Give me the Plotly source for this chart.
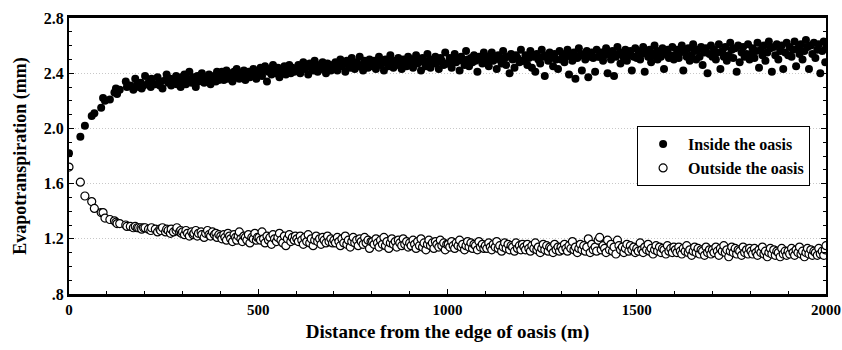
import plotly.graph_objects as go

# Distance from the edge of oasis (m), shared by both series
distance = [
    0, 30, 42, 60, 67, 85, 90, 95, 108, 120, 124, 127, 134, 150, 153, 162, 170, 175, 180, 184, 190, 192, 197,
    201, 210, 216, 218, 228, 234, 240, 242, 247, 255, 258, 262, 268, 270, 276, 283, 285, 292, 295, 297,
    300, 305, 309, 313, 318, 324, 328, 330, 335, 339, 342, 349, 351, 357, 361, 366, 370, 374, 379, 384, 388, 391, 396,
    401, 404, 409, 412, 416, 420, 424, 427, 432, 436, 440, 443, 447, 450, 454, 458, 462, 466, 470, 474, 478, 483, 487, 491, 495, 498,
    502, 506, 510, 514, 518, 523, 527, 531, 535, 539, 543, 548, 552, 556, 560, 565, 569, 573, 577, 582, 586, 590, 595, 598,
    602, 606, 611, 615, 619, 623, 628, 632, 636, 640, 645, 649, 653, 657, 662, 666, 670, 674, 679, 683, 687, 692, 696,
    700, 704, 709, 713, 717, 721, 726, 730, 734, 738, 743, 747, 751, 755, 760, 764, 768, 772, 777, 781, 785, 790, 794, 798,
    802, 806, 811, 815, 819, 823, 828, 832, 836, 840, 845, 849, 853, 857, 862, 866, 870, 874, 879, 883, 887, 892, 896,
    900, 904, 909, 913, 917, 921, 926, 930, 934, 938, 943, 947, 951, 955, 960, 964, 968, 972, 977, 981, 985, 990, 994, 998,
    1002, 1006, 1011, 1015, 1019, 1023, 1028, 1032, 1036, 1040, 1045, 1049, 1053, 1057, 1062, 1066, 1070, 1074, 1079, 1083, 1087, 1092, 1096,
    1100, 1104, 1109, 1113, 1117, 1121, 1126, 1130, 1134, 1138, 1143, 1147, 1151, 1155, 1160, 1164, 1168, 1172, 1177, 1181, 1185, 1190, 1194, 1198,
    1202, 1206, 1211, 1215, 1219, 1223, 1228, 1232, 1236, 1240, 1245, 1249, 1253, 1257, 1262, 1266, 1270, 1274, 1279, 1283, 1287, 1292, 1296,
    1300, 1304, 1309, 1313, 1317, 1321, 1326, 1330, 1334, 1338, 1343, 1347, 1351, 1355, 1360, 1364, 1368, 1372, 1377, 1381, 1385, 1390, 1394, 1398,
    1402, 1406, 1411, 1415, 1419, 1423, 1428, 1432, 1436, 1440, 1445, 1449, 1453, 1457, 1462, 1466, 1470, 1474, 1479, 1483, 1487, 1492, 1496,
    1500, 1504, 1509, 1513, 1517, 1521, 1526, 1530, 1534, 1538, 1543, 1547, 1551, 1555, 1560, 1564, 1568, 1572, 1577, 1581, 1585, 1590, 1594, 1598,
    1602, 1606, 1611, 1615, 1619, 1623, 1628, 1632, 1636, 1640, 1645, 1649, 1653, 1657, 1662, 1666, 1670, 1674, 1679, 1683, 1687, 1692, 1696,
    1700, 1704, 1709, 1713, 1717, 1721, 1726, 1730, 1734, 1738, 1743, 1747, 1751, 1755, 1760, 1764, 1768, 1772, 1777, 1781, 1785, 1790, 1794, 1798,
    1802, 1806, 1811, 1815, 1819, 1823, 1828, 1832, 1836, 1840, 1845, 1849, 1853, 1857, 1862, 1866, 1870, 1874, 1879, 1883, 1887, 1892, 1896,
    1900, 1904, 1909, 1913, 1917, 1921, 1926, 1930, 1934, 1938, 1943, 1947, 1951, 1955, 1960, 1964, 1968, 1972, 1977, 1981, 1985, 1990, 1994, 1998, 2000,
]

# Evapotranspiration inside the oasis (mm)
inside_et = [
    1.82, 1.94, 2.02, 2.09, 2.11, 2.15, 2.22, 2.20, 2.21, 2.26, 2.29, 2.25, 2.28, 2.34, 2.30, 2.31, 2.28, 2.36, 2.32, 2.30, 2.33, 2.29, 2.31,
    2.38, 2.33, 2.30, 2.36, 2.32, 2.37, 2.31, 2.34, 2.29, 2.35, 2.39, 2.33, 2.36, 2.31, 2.34, 2.38, 2.32, 2.35, 2.30, 2.37,
    2.34, 2.39, 2.32, 2.36, 2.41, 2.33, 2.37, 2.35, 2.30, 2.38, 2.34, 2.36, 2.40, 2.33, 2.37, 2.35, 2.39, 2.32, 2.36, 2.38, 2.34, 2.41, 2.35,
    2.37, 2.41, 2.35, 2.39, 2.42, 2.36, 2.40, 2.38, 2.34, 2.41, 2.37, 2.43, 2.39, 2.36, 2.40, 2.38, 2.42, 2.35, 2.39, 2.41, 2.37, 2.40, 2.43, 2.38, 2.36, 2.41,
    2.40, 2.44, 2.38, 2.42, 2.45, 2.34, 2.41, 2.43, 2.39, 2.46, 2.42, 2.40, 2.44, 2.37, 2.43, 2.41, 2.45, 2.39, 2.42, 2.46, 2.40, 2.44, 2.41, 2.43,
    2.42, 2.46, 2.40, 2.44, 2.48, 2.43, 2.45, 2.39, 2.47, 2.44, 2.42, 2.49, 2.45, 2.41, 2.46, 2.43, 2.48, 2.44, 2.40, 2.47, 2.45, 2.42, 2.46,
    2.44, 2.48, 2.42, 2.46, 2.50, 2.45, 2.47, 2.41, 2.49, 2.46, 2.44, 2.51, 2.47, 2.43, 2.48, 2.45, 2.52, 2.46, 2.42, 2.49, 2.47, 2.44, 2.50, 2.46,
    2.45, 2.49, 2.43, 2.47, 2.52, 2.46, 2.48, 2.42, 2.50, 2.47, 2.45, 2.53, 2.48, 2.44, 2.49, 2.46, 2.51, 2.47, 2.43, 2.50, 2.48, 2.45, 2.52,
    2.46, 2.50, 2.44, 2.48, 2.53, 2.47, 2.49, 2.42, 2.51, 2.48, 2.45, 2.54, 2.49, 2.44, 2.50, 2.47, 2.52, 2.48, 2.43, 2.51, 2.49, 2.46, 2.55, 2.47,
    2.47, 2.51, 2.44, 2.49, 2.54, 2.48, 2.50, 2.42, 2.52, 2.49, 2.46, 2.56, 2.50, 2.45, 2.51, 2.48, 2.53, 2.49, 2.41, 2.52, 2.50, 2.47, 2.55,
    2.48, 2.52, 2.45, 2.50, 2.55, 2.49, 2.51, 2.43, 2.53, 2.50, 2.47, 2.56, 2.51, 2.46, 2.52, 2.40, 2.54, 2.50, 2.44, 2.53, 2.51, 2.48, 2.57, 2.49,
    2.49, 2.53, 2.46, 2.51, 2.56, 2.44, 2.52, 2.41, 2.54, 2.50, 2.47, 2.57, 2.52, 2.38, 2.53, 2.49, 2.55, 2.51, 2.45, 2.54, 2.50, 2.43, 2.56,
    2.50, 2.54, 2.48, 2.52, 2.57, 2.39, 2.53, 2.49, 2.55, 2.36, 2.51, 2.58, 2.53, 2.42, 2.54, 2.50, 2.56, 2.37, 2.52, 2.55, 2.51, 2.41, 2.57, 2.52,
    2.52, 2.55, 2.49, 2.53, 2.58, 2.40, 2.54, 2.50, 2.56, 2.38, 2.52, 2.59, 2.54, 2.47, 2.55, 2.51, 2.57, 2.49, 2.53, 2.56, 2.42, 2.52, 2.58,
    2.51, 2.56, 2.50, 2.54, 2.59, 2.41, 2.55, 2.52, 2.57, 2.48, 2.53, 2.60, 2.55, 2.50, 2.56, 2.52, 2.58, 2.43, 2.54, 2.57, 2.51, 2.53, 2.59, 2.50,
    2.53, 2.57, 2.51, 2.55, 2.60, 2.42, 2.56, 2.52, 2.58, 2.49, 2.53, 2.61, 2.56, 2.50, 2.57, 2.52, 2.59, 2.46, 2.55, 2.58, 2.40, 2.54, 2.60,
    2.52, 2.57, 2.50, 2.55, 2.61, 2.43, 2.56, 2.52, 2.59, 2.49, 2.53, 2.62, 2.57, 2.51, 2.58, 2.41, 2.60, 2.48, 2.55, 2.59, 2.52, 2.54, 2.61, 2.50,
    2.54, 2.58, 2.51, 2.56, 2.62, 2.44, 2.57, 2.53, 2.60, 2.49, 2.55, 2.63, 2.58, 2.41, 2.59, 2.53, 2.61, 2.50, 2.56, 2.60, 2.43, 2.55, 2.62,
    2.53, 2.59, 2.52, 2.57, 2.63, 2.45, 2.58, 2.54, 2.61, 2.50, 2.56, 2.64, 2.59, 2.43, 2.60, 2.54, 2.62, 2.51, 2.57, 2.61, 2.40, 2.56, 2.63, 2.48, 2.58,
]

# Evapotranspiration outside the oasis (mm)
outside_et = [
    1.72, 1.61, 1.51, 1.47, 1.42, 1.39, 1.39, 1.35, 1.34, 1.33, 1.32, 1.31, 1.31, 1.30, 1.29, 1.29, 1.28, 1.29, 1.28, 1.28, 1.28, 1.27, 1.28,
    1.28, 1.27, 1.26, 1.28, 1.27, 1.25, 1.27, 1.26, 1.28, 1.25, 1.27, 1.26, 1.24, 1.27, 1.25, 1.26, 1.28, 1.25, 1.26, 1.24,
    1.25, 1.23, 1.26, 1.24, 1.22, 1.25, 1.23, 1.24, 1.26, 1.22, 1.24, 1.25, 1.23, 1.21, 1.24, 1.26, 1.23, 1.22, 1.25, 1.23, 1.24, 1.21, 1.23,
    1.22, 1.20, 1.23, 1.21, 1.19, 1.24, 1.22, 1.20, 1.18, 1.23, 1.21, 1.19, 1.22, 1.25, 1.20, 1.18, 1.22, 1.21, 1.19, 1.23, 1.17, 1.21, 1.20, 1.24, 1.19, 1.21,
    1.21, 1.19, 1.25, 1.20, 1.17, 1.22, 1.19, 1.21, 1.16, 1.23, 1.20, 1.18, 1.21, 1.24, 1.19, 1.17, 1.22, 1.15, 1.20, 1.23, 1.18, 1.21, 1.19, 1.22,
    1.20, 1.18, 1.22, 1.19, 1.16, 1.21, 1.18, 1.23, 1.17, 1.20, 1.15, 1.19, 1.22, 1.18, 1.20, 1.16, 1.21, 1.19, 1.17, 1.22, 1.18, 1.20, 1.17,
    1.19, 1.17, 1.21, 1.18, 1.15, 1.20, 1.17, 1.22, 1.16, 1.19, 1.14, 1.18, 1.21, 1.17, 1.19, 1.15, 1.20, 1.18, 1.16, 1.21, 1.17, 1.19, 1.13, 1.18,
    1.18, 1.16, 1.20, 1.17, 1.14, 1.19, 1.16, 1.21, 1.15, 1.18, 1.13, 1.17, 1.20, 1.16, 1.18, 1.14, 1.19, 1.17, 1.15, 1.20, 1.16, 1.18, 1.14,
    1.17, 1.15, 1.19, 1.16, 1.13, 1.18, 1.15, 1.20, 1.14, 1.17, 1.12, 1.16, 1.19, 1.15, 1.17, 1.13, 1.18, 1.16, 1.14, 1.19, 1.15, 1.17, 1.12, 1.16,
    1.16, 1.14, 1.18, 1.15, 1.13, 1.17, 1.15, 1.19, 1.14, 1.16, 1.12, 1.15, 1.18, 1.14, 1.17, 1.13, 1.16, 1.15, 1.12, 1.18, 1.14, 1.16, 1.13,
    1.15, 1.13, 1.17, 1.14, 1.12, 1.16, 1.14, 1.18, 1.13, 1.15, 1.11, 1.14, 1.17, 1.13, 1.16, 1.12, 1.15, 1.14, 1.11, 1.17, 1.13, 1.15, 1.12, 1.16,
    1.14, 1.12, 1.16, 1.13, 1.11, 1.15, 1.13, 1.17, 1.12, 1.14, 1.10, 1.13, 1.16, 1.12, 1.15, 1.11, 1.14, 1.13, 1.10, 1.16, 1.12, 1.14, 1.11,
    1.14, 1.12, 1.16, 1.13, 1.11, 1.15, 1.13, 1.18, 1.12, 1.14, 1.10, 1.13, 1.16, 1.12, 1.15, 1.11, 1.14, 1.20, 1.10, 1.16, 1.12, 1.14, 1.11, 1.19,
    1.21, 1.12, 1.15, 1.13, 1.10, 1.19, 1.12, 1.16, 1.11, 1.14, 1.09, 1.19, 1.15, 1.12, 1.14, 1.10, 1.13, 1.16, 1.11, 1.15, 1.12, 1.14, 1.10,
    1.13, 1.11, 1.17, 1.12, 1.10, 1.14, 1.12, 1.16, 1.11, 1.13, 1.09, 1.12, 1.15, 1.11, 1.14, 1.10, 1.13, 1.12, 1.09, 1.15, 1.11, 1.13, 1.10, 1.14,
    1.12, 1.10, 1.14, 1.11, 1.09, 1.13, 1.11, 1.15, 1.10, 1.12, 1.08, 1.11, 1.14, 1.10, 1.13, 1.09, 1.12, 1.11, 1.08, 1.14, 1.10, 1.12, 1.09,
    1.12, 1.10, 1.14, 1.11, 1.08, 1.13, 1.11, 1.15, 1.10, 1.12, 1.07, 1.11, 1.14, 1.10, 1.13, 1.09, 1.12, 1.11, 1.08, 1.14, 1.10, 1.12, 1.09, 1.13,
    1.11, 1.09, 1.13, 1.10, 1.08, 1.12, 1.10, 1.14, 1.09, 1.11, 1.07, 1.10, 1.13, 1.09, 1.12, 1.08, 1.11, 1.10, 1.07, 1.13, 1.09, 1.11, 1.08,
    1.11, 1.09, 1.13, 1.10, 1.08, 1.12, 1.10, 1.14, 1.09, 1.11, 1.07, 1.10, 1.13, 1.09, 1.12, 1.08, 1.11, 1.10, 1.08, 1.13, 1.09, 1.11, 1.08, 1.12, 1.15,
]

x_tickvals = [0, 500, 1000, 1500, 2000]
x_ticktext = ["0", "500", "1000", "1500", "2000"]
y_tickvals = [0.8, 1.2, 1.6, 2.0, 2.4, 2.8]
y_ticktext = [".8", "1.2", "1.6", "2.0", "2.4", "2.8"]

n = min(len(distance), len(inside_et), len(outside_et))

FONT = "Liberation Serif"

fig = go.Figure()
fig.add_trace(go.Scatter(
    x=distance[:n], y=inside_et[:n], mode="markers", name="Inside the oasis",
    marker=dict(symbol="circle", size=8, color="black", line=dict(width=0)),
))
fig.add_trace(go.Scatter(
    x=distance[:n], y=outside_et[:n], mode="markers", name="Outside the oasis",
    marker=dict(symbol="circle", size=8, color="white", line=dict(width=1.2, color="black")),
))

fig.update_layout(
    width=842, height=350,
    margin=dict(l=69, r=16, t=18, b=56),
    paper_bgcolor="white", plot_bgcolor="white",
    font=dict(family=FONT, color="black", size=15, weight="bold"),
    showlegend=True,
    legend=dict(
        x=0.979, y=0.608, xanchor="right", yanchor="top",
        bgcolor="white", bordercolor="black", borderwidth=1,
        font=dict(family=FONT, size=16, weight="bold"),
        itemsizing="trace", itemwidth=40, tracegroupgap=0,
    ),
)

fig.update_xaxes(
    range=[0, 2000], tickvals=x_tickvals, ticktext=x_ticktext,
    ticks="inside", ticklen=5, tickwidth=1, tickcolor="black",
    minor=dict(dtick=100, ticks="inside", ticklen=3, tickcolor="black", showgrid=False),
    showline=True, linecolor="black", linewidth=2.5, mirror=True,
    showgrid=False, zeroline=False, automargin=False,
    ticklabeloverflow="allow",
    tickfont=dict(family=FONT, size=15, weight="bold"),
    title=dict(text="Distance from the edge of oasis (m)", standoff=8,
               font=dict(family=FONT, size=19, weight="bold")),
)
fig.update_yaxes(
    range=[0.8, 2.8], tickvals=y_tickvals, ticktext=y_ticktext,
    ticks="inside", ticklen=5, tickwidth=1, tickcolor="black",
    minor=dict(dtick=0.1, tick0=0.8, ticks="inside", ticklen=3, tickcolor="black", showgrid=False),
    showline=True, linecolor="black", linewidth=2, mirror="ticks",
    showgrid=True, gridcolor="#c8c8c8", griddash="1px,2px", gridwidth=1,
    zeroline=False, automargin=False,
    tickfont=dict(family=FONT, size=16, weight="bold"),
    title=dict(text="Evapotranspiration (mm)", standoff=12,
               font=dict(family=FONT, size=18, weight="bold")),
)

# Remove the default 8 px page margin so the 842x350 figure fills the window,
# and hide the hover toolbar.
fig.write_html(
    "out.html",
    config={"displayModeBar": False},
    post_script="document.body.style.margin='0';document.body.style.overflow='hidden';",
)
